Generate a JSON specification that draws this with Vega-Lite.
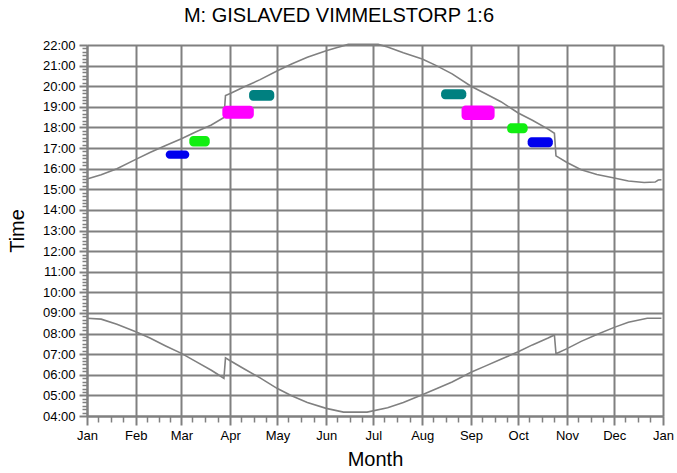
{
  "$schema": "https://vega.github.io/schema/vega-lite/v6.json",
  "width": 576,
  "height": 371,
  "autosize": {"type": "none"},
  "padding": {"left": 87, "top": 45, "right": 14, "bottom": 57},
  "background": "white",
  "config": {"view": {"stroke": null}, "font": "Liberation Sans"},
  "title": {"text": "M: GISLAVED VIMMELSTORP 1:6", "fontSize": 20, "fontWeight": "normal", "font": "Liberation Sans", "anchor": "middle", "dx": -36, "frame": "group", "offset": 13, "color": "black"},
  "datasets": {
    "sun": [
      {"event": "sunset", "date": "2020-01-01", "time": 15.50},
      {"event": "sunset", "date": "2020-01-10", "time": 15.70},
      {"event": "sunset", "date": "2020-01-20", "time": 16.00},
      {"event": "sunset", "date": "2020-02-01", "time": 16.45},
      {"event": "sunset", "date": "2020-02-10", "time": 16.78},
      {"event": "sunset", "date": "2020-02-20", "time": 17.12},
      {"event": "sunset", "date": "2020-03-01", "time": 17.45},
      {"event": "sunset", "date": "2020-03-10", "time": 17.78},
      {"event": "sunset", "date": "2020-03-20", "time": 18.12},
      {"event": "sunset", "date": "2020-03-28", "time": 18.48},
      {"event": "sunset", "date": "2020-03-29", "time": 19.55},
      {"event": "sunset", "date": "2020-04-01", "time": 19.65},
      {"event": "sunset", "date": "2020-04-10", "time": 19.97},
      {"event": "sunset", "date": "2020-04-20", "time": 20.32},
      {"event": "sunset", "date": "2020-05-01", "time": 20.75},
      {"event": "sunset", "date": "2020-05-10", "time": 21.08},
      {"event": "sunset", "date": "2020-05-20", "time": 21.40},
      {"event": "sunset", "date": "2020-06-01", "time": 21.72},
      {"event": "sunset", "date": "2020-06-08", "time": 21.88},
      {"event": "sunset", "date": "2020-06-15", "time": 22.03},
      {"event": "sunset", "date": "2020-07-04", "time": 22.03},
      {"event": "sunset", "date": "2020-07-10", "time": 21.90},
      {"event": "sunset", "date": "2020-07-20", "time": 21.62},
      {"event": "sunset", "date": "2020-08-01", "time": 21.32},
      {"event": "sunset", "date": "2020-08-10", "time": 21.00},
      {"event": "sunset", "date": "2020-08-20", "time": 20.60},
      {"event": "sunset", "date": "2020-09-01", "time": 20.00},
      {"event": "sunset", "date": "2020-09-10", "time": 19.65},
      {"event": "sunset", "date": "2020-09-20", "time": 19.25},
      {"event": "sunset", "date": "2020-10-01", "time": 18.70},
      {"event": "sunset", "date": "2020-10-10", "time": 18.35},
      {"event": "sunset", "date": "2020-10-20", "time": 17.92},
      {"event": "sunset", "date": "2020-10-24", "time": 17.72},
      {"event": "sunset", "date": "2020-10-25", "time": 16.62},
      {"event": "sunset", "date": "2020-11-01", "time": 16.30},
      {"event": "sunset", "date": "2020-11-10", "time": 15.95},
      {"event": "sunset", "date": "2020-11-20", "time": 15.72},
      {"event": "sunset", "date": "2020-12-01", "time": 15.55},
      {"event": "sunset", "date": "2020-12-10", "time": 15.40},
      {"event": "sunset", "date": "2020-12-20", "time": 15.33},
      {"event": "sunset", "date": "2020-12-27", "time": 15.35},
      {"event": "sunset", "date": "2020-12-29", "time": 15.45},
      {"event": "sunset", "date": "2020-12-31", "time": 15.46},
      {"event": "sunrise", "date": "2020-01-01", "time": 8.74},
      {"event": "sunrise", "date": "2020-01-10", "time": 8.70},
      {"event": "sunrise", "date": "2020-01-20", "time": 8.45},
      {"event": "sunrise", "date": "2020-02-01", "time": 8.09},
      {"event": "sunrise", "date": "2020-02-10", "time": 7.78},
      {"event": "sunrise", "date": "2020-02-20", "time": 7.40},
      {"event": "sunrise", "date": "2020-03-01", "time": 7.04},
      {"event": "sunrise", "date": "2020-03-10", "time": 6.65},
      {"event": "sunrise", "date": "2020-03-20", "time": 6.22},
      {"event": "sunrise", "date": "2020-03-28", "time": 5.83},
      {"event": "sunrise", "date": "2020-03-29", "time": 6.82},
      {"event": "sunrise", "date": "2020-04-01", "time": 6.68},
      {"event": "sunrise", "date": "2020-04-10", "time": 6.28},
      {"event": "sunrise", "date": "2020-04-20", "time": 5.85},
      {"event": "sunrise", "date": "2020-05-01", "time": 5.33},
      {"event": "sunrise", "date": "2020-05-10", "time": 4.98},
      {"event": "sunrise", "date": "2020-05-20", "time": 4.65},
      {"event": "sunrise", "date": "2020-06-01", "time": 4.37},
      {"event": "sunrise", "date": "2020-06-12", "time": 4.19},
      {"event": "sunrise", "date": "2020-06-27", "time": 4.19},
      {"event": "sunrise", "date": "2020-07-10", "time": 4.40},
      {"event": "sunrise", "date": "2020-07-20", "time": 4.65},
      {"event": "sunrise", "date": "2020-08-01", "time": 5.03},
      {"event": "sunrise", "date": "2020-08-10", "time": 5.32},
      {"event": "sunrise", "date": "2020-08-20", "time": 5.65},
      {"event": "sunrise", "date": "2020-09-01", "time": 6.12},
      {"event": "sunrise", "date": "2020-09-10", "time": 6.42},
      {"event": "sunrise", "date": "2020-09-20", "time": 6.75},
      {"event": "sunrise", "date": "2020-10-01", "time": 7.12},
      {"event": "sunrise", "date": "2020-10-10", "time": 7.45},
      {"event": "sunrise", "date": "2020-10-20", "time": 7.78},
      {"event": "sunrise", "date": "2020-10-24", "time": 7.93},
      {"event": "sunrise", "date": "2020-10-25", "time": 7.02},
      {"event": "sunrise", "date": "2020-11-01", "time": 7.27},
      {"event": "sunrise", "date": "2020-11-10", "time": 7.62},
      {"event": "sunrise", "date": "2020-11-20", "time": 7.95},
      {"event": "sunrise", "date": "2020-12-01", "time": 8.30},
      {"event": "sunrise", "date": "2020-12-10", "time": 8.55},
      {"event": "sunrise", "date": "2020-12-22", "time": 8.74},
      {"event": "sunrise", "date": "2020-12-31", "time": 8.74}
    ],
    "blobs": [
      {"group": "1", "start": "2020-02-20", "end": "2020-03-06", "low": 16.48, "high": 16.88},
      {"group": "2", "start": "2020-03-06", "end": "2020-03-19", "low": 17.07, "high": 17.58},
      {"group": "3", "start": "2020-03-27", "end": "2020-04-16", "low": 18.42, "high": 19.05},
      {"group": "4", "start": "2020-04-13", "end": "2020-04-29", "low": 19.30, "high": 19.82},
      {"group": "4", "start": "2020-08-13", "end": "2020-08-29", "low": 19.37, "high": 19.85},
      {"group": "3", "start": "2020-08-26", "end": "2020-09-16", "low": 18.36, "high": 19.07},
      {"group": "2", "start": "2020-09-24", "end": "2020-10-07", "low": 17.72, "high": 18.20},
      {"group": "1", "start": "2020-10-07", "end": "2020-10-23", "low": 17.04, "high": 17.52}
    ]
  },
  "layer": [
    {
      "data": {"name": "sun"},
      "mark": {"type": "line", "opacity": 0},
      "encoding": {
        "x": {"field": "date", "type": "temporal",
          "scale": {"type": "utc", "domain": [{"year": 2020, "month": 1, "date": 1, "utc": true}, {"year": 2021, "month": 1, "date": 1, "utc": true}]},
          "axis": {"orient": "bottom", "labels": false, "grid": false, "domain": false, "ticks": true, "tickSize": 6, "tickColor": "#808080", "tickWidth": 1.5, "title": null,
            "values": [
              {"year": 2020, "month": 1, "date": 8, "utc": true}, {"year": 2020, "month": 1, "date": 16, "utc": true}, {"year": 2020, "month": 1, "date": 24, "utc": true},
              {"year": 2020, "month": 2, "date": 8, "utc": true}, {"year": 2020, "month": 2, "date": 16, "utc": true}, {"year": 2020, "month": 2, "date": 23, "utc": true},
              {"year": 2020, "month": 3, "date": 8, "utc": true}, {"year": 2020, "month": 3, "date": 16, "utc": true}, {"year": 2020, "month": 3, "date": 24, "utc": true},
              {"year": 2020, "month": 4, "date": 8, "utc": true}, {"year": 2020, "month": 4, "date": 16, "utc": true}, {"year": 2020, "month": 4, "date": 24, "utc": true},
              {"year": 2020, "month": 5, "date": 8, "utc": true}, {"year": 2020, "month": 5, "date": 16, "utc": true}, {"year": 2020, "month": 5, "date": 24, "utc": true},
              {"year": 2020, "month": 6, "date": 8, "utc": true}, {"year": 2020, "month": 6, "date": 16, "utc": true}, {"year": 2020, "month": 6, "date": 24, "utc": true},
              {"year": 2020, "month": 7, "date": 8, "utc": true}, {"year": 2020, "month": 7, "date": 16, "utc": true}, {"year": 2020, "month": 7, "date": 24, "utc": true},
              {"year": 2020, "month": 8, "date": 8, "utc": true}, {"year": 2020, "month": 8, "date": 16, "utc": true}, {"year": 2020, "month": 8, "date": 24, "utc": true},
              {"year": 2020, "month": 9, "date": 8, "utc": true}, {"year": 2020, "month": 9, "date": 16, "utc": true}, {"year": 2020, "month": 9, "date": 24, "utc": true},
              {"year": 2020, "month": 10, "date": 8, "utc": true}, {"year": 2020, "month": 10, "date": 16, "utc": true}, {"year": 2020, "month": 10, "date": 24, "utc": true},
              {"year": 2020, "month": 11, "date": 8, "utc": true}, {"year": 2020, "month": 11, "date": 16, "utc": true}, {"year": 2020, "month": 11, "date": 24, "utc": true},
              {"year": 2020, "month": 12, "date": 8, "utc": true}, {"year": 2020, "month": 12, "date": 16, "utc": true}, {"year": 2020, "month": 12, "date": 24, "utc": true}
            ]}},
        "y": {"field": "time", "type": "quantitative",
          "scale": {"domain": [4, 22], "nice": false, "zero": false},
          "axis": {"orient": "left", "labels": false, "grid": false, "domain": false, "ticks": true, "tickSize": 5, "tickColor": "#808080", "tickWidth": 1.5, "title": null,
            "values": [4.1667,4.3333,4.5,4.6667,4.8333,5.1667,5.3333,5.5,5.6667,5.8333,6.1667,6.3333,6.5,6.6667,6.8333,7.1667,7.3333,7.5,7.6667,7.8333,8.1667,8.3333,8.5,8.6667,8.8333,9.1667,9.3333,9.5,9.6667,9.8333,10.1667,10.3333,10.5,10.6667,10.8333,11.1667,11.3333,11.5,11.6667,11.8333,12.1667,12.3333,12.5,12.6667,12.8333,13.1667,13.3333,13.5,13.6667,13.8333,14.1667,14.3333,14.5,14.6667,14.8333,15.1667,15.3333,15.5,15.6667,15.8333,16.1667,16.3333,16.5,16.6667,16.8333,17.1667,17.3333,17.5,17.6667,17.8333,18.1667,18.3333,18.5,18.6667,18.8333,19.1667,19.3333,19.5,19.6667,19.8333,20.1667,20.3333,20.5,20.6667,20.8333,21.1667,21.3333,21.5,21.6667,21.8333]}},
        "detail": {"field": "event"}
      }
    },
    {
      "data": {"name": "sun"},
      "mark": {"type": "line", "color": "#808080", "strokeWidth": 1.6, "clip": false},
      "encoding": {
        "x": {"field": "date", "type": "temporal",
          "axis": {"orient": "bottom", "format": "%b", "grid": true, "gridColor": "#808080", "gridWidth": 2, "gridOpacity": 1,
            "domainColor": "#808080", "domainWidth": 2, "tickColor": "#808080", "tickWidth": 2, "tickSize": 9,
            "labelFontSize": 13, "labelColor": "black", "labelPadding": 4, "labelFont": "Liberation Sans", "labelFlush": false, "labelOverlap": false,
            "title": "Month", "titleFontSize": 20, "titleFontWeight": "normal", "titleColor": "black", "titleFont": "Liberation Sans", "titlePadding": 7,
            "values": [
              {"year": 2020, "month": 1, "date": 1, "utc": true}, {"year": 2020, "month": 2, "date": 1, "utc": true}, {"year": 2020, "month": 3, "date": 1, "utc": true},
              {"year": 2020, "month": 4, "date": 1, "utc": true}, {"year": 2020, "month": 5, "date": 1, "utc": true}, {"year": 2020, "month": 6, "date": 1, "utc": true},
              {"year": 2020, "month": 7, "date": 1, "utc": true}, {"year": 2020, "month": 8, "date": 1, "utc": true}, {"year": 2020, "month": 9, "date": 1, "utc": true},
              {"year": 2020, "month": 10, "date": 1, "utc": true}, {"year": 2020, "month": 11, "date": 1, "utc": true}, {"year": 2020, "month": 12, "date": 1, "utc": true},
              {"year": 2021, "month": 1, "date": 1, "utc": true}
            ]}},
        "y": {"field": "time", "type": "quantitative",
          "axis": {"orient": "left", "values": [4,5,6,7,8,9,10,11,12,13,14,15,16,17,18,19,20,21,22],
            "labelExpr": "(datum.value < 10 ? '0' : '') + datum.value + ':00'",
            "grid": true, "gridColor": "#808080", "gridWidth": 2, "gridOpacity": 1,
            "domainColor": "#808080", "domainWidth": 2, "tickColor": "#808080", "tickWidth": 2, "tickSize": 8,
            "labelFontSize": 13, "labelColor": "black", "labelPadding": 4, "labelFont": "Liberation Sans", "labelFlush": false, "labelOverlap": false,
            "title": "Time", "titleFontSize": 20, "titleFontWeight": "normal", "titleColor": "black", "titleFont": "Liberation Sans", "titleX": -60}},
        "detail": {"field": "event"}
      }
    },
    {
      "data": {"name": "blobs"},
      "mark": {"type": "rect", "cornerRadius": 4},
      "encoding": {
        "x": {"field": "start", "type": "temporal", "axis": null},
        "x2": {"field": "end"},
        "y": {"field": "low", "type": "quantitative", "axis": null},
        "y2": {"field": "high"},
        "color": {"field": "group", "type": "nominal", "legend": null,
          "scale": {"domain": ["1", "2", "3", "4"], "range": ["#0000ee", "#11ee11", "#ff00ff", "#008080"]}}
      }
    }
  ],
  "resolve": {"axis": {"x": "independent", "y": "independent"}}
}
